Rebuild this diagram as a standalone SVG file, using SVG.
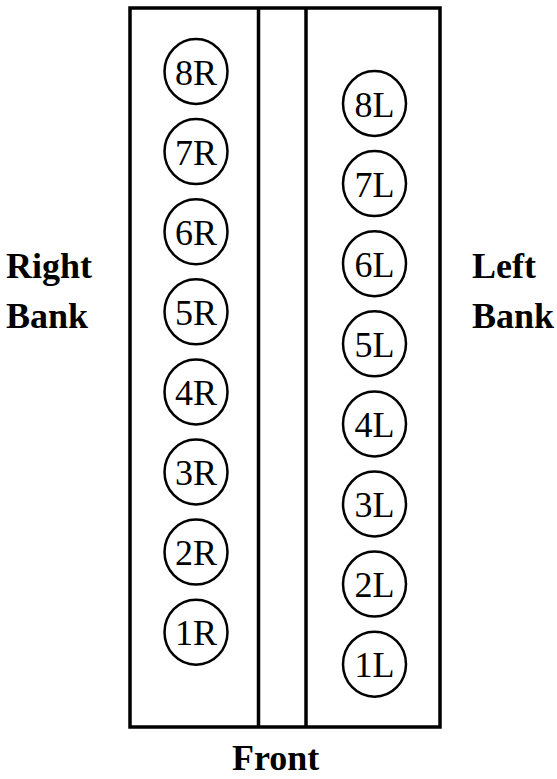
<svg xmlns="http://www.w3.org/2000/svg" width="557" height="779" viewBox="0 0 557 779">
<style>
.frame{fill:none;stroke:#000;stroke-width:3.5}
.cyl{fill:#fff;stroke:#000;stroke-width:2.5}
.lbl{font-family:"Liberation Serif","Times New Roman",serif;font-size:36px;fill:#000;text-anchor:middle}
.bank{font-family:"Liberation Serif","Times New Roman",serif;font-size:36px;font-weight:bold;fill:#000}
</style>
<g id="block">
<rect class="frame" x="130" y="8" width="310" height="719"/>
<line class="frame" x1="258.5" y1="8" x2="258.5" y2="727"/>
<line class="frame" x1="306" y1="8" x2="306" y2="727"/>
</g>
<g id="cyl-8R"><ellipse class="cyl" cx="196" cy="71.5" rx="31.5" ry="32.5"/><text class="lbl" x="196" y="84.5">8R</text></g>
<g id="cyl-7R"><ellipse class="cyl" cx="196" cy="151.6" rx="31.5" ry="32.5"/><text class="lbl" x="196" y="164.6">7R</text></g>
<g id="cyl-6R"><ellipse class="cyl" cx="196" cy="231.7" rx="31.5" ry="32.5"/><text class="lbl" x="196" y="244.7">6R</text></g>
<g id="cyl-5R"><ellipse class="cyl" cx="196" cy="311.8" rx="31.5" ry="32.5"/><text class="lbl" x="196" y="324.8">5R</text></g>
<g id="cyl-4R"><ellipse class="cyl" cx="196" cy="391.9" rx="31.5" ry="32.5"/><text class="lbl" x="196" y="404.9">4R</text></g>
<g id="cyl-3R"><ellipse class="cyl" cx="196" cy="472" rx="31.5" ry="32.5"/><text class="lbl" x="196" y="485">3R</text></g>
<g id="cyl-2R"><ellipse class="cyl" cx="196" cy="552.1" rx="31.5" ry="32.5"/><text class="lbl" x="196" y="565.1">2R</text></g>
<g id="cyl-1R"><ellipse class="cyl" cx="196" cy="632.2" rx="31.5" ry="32.5"/><text class="lbl" x="196" y="645.2">1R</text></g>
<g id="cyl-8L"><ellipse class="cyl" cx="374.5" cy="103.5" rx="31.5" ry="32.5"/><text class="lbl" x="374.5" y="116.5">8L</text></g>
<g id="cyl-7L"><ellipse class="cyl" cx="374.5" cy="183.6" rx="31.5" ry="32.5"/><text class="lbl" x="374.5" y="196.6">7L</text></g>
<g id="cyl-6L"><ellipse class="cyl" cx="374.5" cy="263.7" rx="31.5" ry="32.5"/><text class="lbl" x="374.5" y="276.7">6L</text></g>
<g id="cyl-5L"><ellipse class="cyl" cx="374.5" cy="343.8" rx="31.5" ry="32.5"/><text class="lbl" x="374.5" y="356.8">5L</text></g>
<g id="cyl-4L"><ellipse class="cyl" cx="374.5" cy="423.9" rx="31.5" ry="32.5"/><text class="lbl" x="374.5" y="436.9">4L</text></g>
<g id="cyl-3L"><ellipse class="cyl" cx="374.5" cy="504" rx="31.5" ry="32.5"/><text class="lbl" x="374.5" y="517">3L</text></g>
<g id="cyl-2L"><ellipse class="cyl" cx="374.5" cy="584.1" rx="31.5" ry="32.5"/><text class="lbl" x="374.5" y="597.1">2L</text></g>
<g id="cyl-1L"><ellipse class="cyl" cx="374.5" cy="664.2" rx="31.5" ry="32.5"/><text class="lbl" x="374.5" y="677.2">1L</text></g>
<g id="label-right"><text class="bank" x="6" y="278">Right</text><text class="bank" x="6" y="328">Bank</text></g>
<g id="label-left"><text class="bank" x="472" y="278">Left</text><text class="bank" x="472" y="328">Bank</text></g>
<g id="label-front"><text class="bank" x="232" y="770">Front</text></g>
<g id="connectors"/>
</svg>
